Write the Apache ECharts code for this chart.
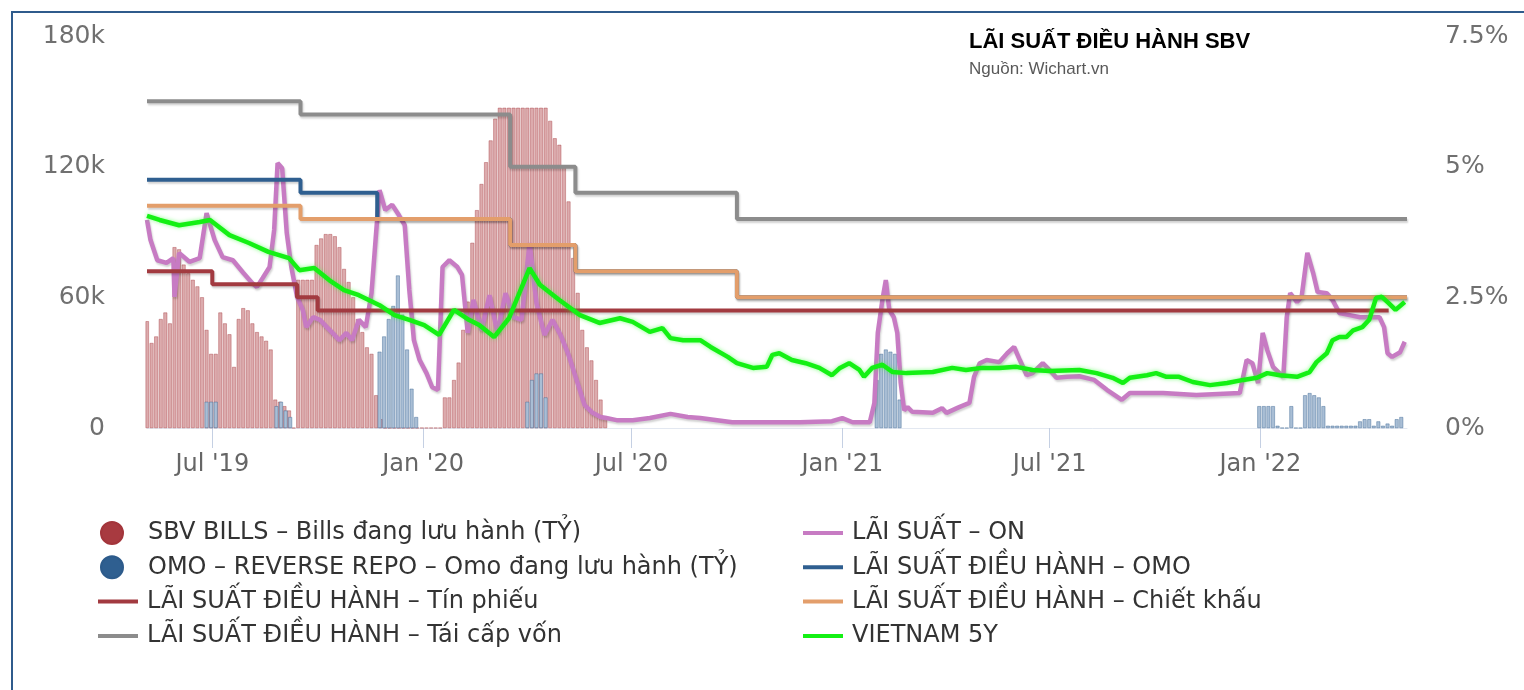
<!DOCTYPE html>
<html>
<head>
<meta charset="utf-8">
<title>LÃI SUẤT ĐIỀU HÀNH SBV</title>
<script src="https://cdn.jsdelivr.net/npm/echarts@6/dist/echarts.min.js"></script>
<style>
  html, body { margin: 0; padding: 0; background: #fff; overflow: hidden; }
  #wrap { position: relative; width: 1524px; height: 690px; overflow: hidden; }
  #chart { position: absolute; left: 0; top: 0; width: 1524px; height: 690px; }
  #frame {
    position: absolute; left: 11px; top: 11px; width: 1600px; height: 800px;
    border: 2px solid #2f5b8c; pointer-events: none;
  }
</style>
</head>
<body>
<div id="wrap">
  <div id="chart"></div>
  <div id="frame"></div>
</div>
<script>
// tên series (giữ nguyên như hình gốc)
const NAME_BILLS = 'SBV BILLS – Bills đang lưu hành (TỶ)';
const NAME_OMO = 'OMO – REVERSE REPO – Omo đang lưu hành (TỶ)';
const NAME_BILL_RATE = 'LÃI SUẤT ĐIỀU HÀNH – Tín phiếu';
const NAME_REFI = 'LÃI SUẤT ĐIỀU HÀNH – Tái cấp vốn';
const NAME_ON = 'LÃI SUẤT – ON';
const NAME_OMO_RATE = 'LÃI SUẤT ĐIỀU HÀNH – OMO';
const NAME_DISCOUNT = 'LÃI SUẤT ĐIỀU HÀNH – Chiết khấu';
const NAME_VN5Y = 'VIETNAM 5Y';

// trục thời gian
const xStart = '2019-05-05';
const xEnd = '2022-05-09';
const xTickDates = ['2019-07-01', '2020-01-01', '2020-07-01', '2021-01-01', '2021-07-01', '2022-01-01'];
const xTickLabels = ["Jul '19", "Jan '20", "Jul '20", "Jan '21", "Jul '21", "Jan '22"];

// tín phiếu đang lưu hành (nghìn tỷ), mỗi cột cách nhau 4 ngày từ billsStart
const billsStart = '2019-05-05';
const barStepDays = 4;
const billsValues = [
  49, 39, 42, 50, 53, 48, 83, 82, 75, 71, 68, 65, 60, 45, 34, 34, 53, 48, 43, 28,
  50, 55, 54, 48, 44, 42, 40, 36, 13, 12, 10, 8, 0, 68, 68, 68, 68, 84, 87, 89,
  89, 88, 83, 73, 67, 60, 50, 44, 37, 34, 15, 4, 0, 0, 0, 0, 0, 0, 0, 0,
  0, 0, 0, 0, 0, 14, 14, 22, 30, 45, 58, 85, 100, 112, 122, 132, 142, 147, 147, 147,
  147, 147, 147, 147, 147, 147, 147, 147, 141, 133, 130, 120, 104, 78, 62, 45, 37, 31, 22, 13,
  4
];

// OMO đang lưu hành (nghìn tỷ): ngày bắt đầu từng đợt + giá trị (cách 4 ngày)
const omoRunStarts = ['2019-06-26', '2019-08-26', '2019-11-24', '2020-04-01', '2021-01-31', '2021-12-31'];
const omoRunValues = [
  [12, 12, 12],
  [10, 12, 8, 5],
  [35, 42, 50, 56, 70, 52, 36, 18, 5],
  [12, 22, 25, 25, 14],
  [22, 34, 36, 35, 34, 13],
  [10, 10, 10, 10, 1, 0, 0, 10, 0, 0, 15, 16, 15, 14, 10, 1, 1, 1, 1, 1, 1, 1, 3, 4, 4, 1, 3, 1, 2, 1, 4, 5]
];

// lãi suất điều hành (%), bậc thang
const refiRate = [['2019-05-05', 6.25], ['2019-09-16', 6.0], ['2020-03-17', 5.0], ['2020-05-13', 4.5], ['2020-10-01', 4.0], ['2022-05-09', 4.0]];
const omoRate = [['2019-05-05', 4.75], ['2019-09-16', 4.5], ['2019-11-22', 4.0], ['2020-03-17', 3.5], ['2020-05-13', 3.0], ['2020-10-01', 2.5], ['2022-05-09', 2.5]];
const discountRate = [['2019-05-05', 4.25], ['2019-09-16', 4.0], ['2020-03-17', 3.5], ['2020-05-13', 3.0], ['2020-10-01', 2.5], ['2022-05-09', 2.5]];
const billRate = [['2019-05-05', 3.0], ['2019-07-01', 2.75], ['2019-09-13', 2.5], ['2019-10-01', 2.25], ['2022-04-23', 2.25]];

// lãi suất qua đêm liên ngân hàng (%)
const onRate = [
  ['2019-05-05', 3.98], ['2019-05-08', 3.60], ['2019-05-14', 3.21], ['2019-05-22', 3.16], ['2019-05-28', 3.25],
  ['2019-05-29', 2.51], ['2019-06-02', 3.35], ['2019-06-11', 3.18], ['2019-06-20', 3.25], ['2019-06-26', 4.11],
  ['2019-07-03', 3.60], ['2019-07-10', 3.27], ['2019-07-19', 3.21], ['2019-07-28', 2.97], ['2019-08-05', 2.77],
  ['2019-08-09', 2.70], ['2019-08-14', 2.87], ['2019-08-20', 3.08], ['2019-08-24', 3.79], ['2019-08-27', 5.07],
  ['2019-08-31', 4.97], ['2019-09-04', 3.73], ['2019-09-08', 3.08], ['2019-09-13', 2.51], ['2019-09-18', 2.26],
  ['2019-09-21', 1.93], ['2019-09-27', 2.12], ['2019-10-03', 2.07], ['2019-10-09', 1.93], ['2019-10-14', 1.82],
  ['2019-10-20', 1.68], ['2019-10-26', 1.82], ['2019-10-31', 1.68], ['2019-11-06', 2.07], ['2019-11-12', 1.93],
  ['2019-11-17', 2.58], ['2019-11-21', 3.73], ['2019-11-24', 4.55], ['2019-11-29', 4.17], ['2019-12-05', 4.27],
  ['2019-12-11', 4.07], ['2019-12-16', 3.88], ['2019-12-20', 2.64], ['2019-12-24', 1.68], ['2019-12-29', 1.30],
  ['2020-01-04', 1.05], ['2020-01-09', 0.78], ['2020-01-14', 0.73], ['2020-01-18', 3.08], ['2020-01-24', 3.21],
  ['2020-01-31', 3.08], ['2020-02-04', 2.93], ['2020-02-09', 1.82], ['2020-02-14', 2.45], ['2020-02-21', 1.87],
  ['2020-02-28', 2.54], ['2020-03-06', 1.82], ['2020-03-13', 2.58], ['2020-03-20', 2.12], ['2020-03-27', 2.07],
  ['2020-04-03', 3.54], ['2020-04-09', 2.39], ['2020-04-16', 1.78], ['2020-04-23', 2.07], ['2020-04-30', 1.78],
  ['2020-05-07', 1.40], ['2020-05-14', 0.92], ['2020-05-21', 0.44], ['2020-05-28', 0.29], ['2020-06-04', 0.21],
  ['2020-06-09', 0.19], ['2020-06-18', 0.15], ['2020-07-02', 0.15], ['2020-07-17', 0.19], ['2020-08-04', 0.27],
  ['2020-08-19', 0.21], ['2020-08-30', 0.19], ['2020-09-27', 0.11], ['2020-10-27', 0.11], ['2020-11-25', 0.11],
  ['2020-12-23', 0.13], ['2021-01-01', 0.19], ['2021-01-10', 0.11], ['2021-01-25', 0.11], ['2021-01-29', 0.48],
  ['2021-02-01', 1.82], ['2021-02-05', 2.45], ['2021-02-08', 2.83], ['2021-02-11', 2.26], ['2021-02-15', 2.12],
  ['2021-02-18', 1.82], ['2021-02-21', 0.86], ['2021-02-24', 0.34], ['2021-02-27', 0.40], ['2021-03-03', 0.31],
  ['2021-03-21', 0.29], ['2021-03-29', 0.38], ['2021-04-02', 0.29], ['2021-04-13', 0.40], ['2021-04-22', 0.48],
  ['2021-04-26', 0.98], ['2021-05-01', 1.24], ['2021-05-07', 1.30], ['2021-05-18', 1.26], ['2021-05-25', 1.43],
  ['2021-05-31', 1.55], ['2021-06-05', 1.30], ['2021-06-11', 1.01], ['2021-06-16', 1.05], ['2021-06-25', 1.24],
  ['2021-07-01', 1.11], ['2021-07-07', 0.96], ['2021-07-16', 0.98], ['2021-07-27', 0.99], ['2021-08-09', 0.92],
  ['2021-08-20', 0.73], ['2021-09-02', 0.54], ['2021-09-09', 0.67], ['2021-10-08', 0.67], ['2021-11-06', 0.63],
  ['2021-12-14', 0.67], ['2021-12-20', 1.30], ['2021-12-25', 1.24], ['2021-12-30', 0.86], ['2022-01-03', 1.82],
  ['2022-01-07', 1.49], ['2022-01-12', 1.17], ['2022-01-21', 0.98], ['2022-01-24', 2.12], ['2022-01-27', 2.58],
  ['2022-02-02', 2.41], ['2022-02-06', 2.51], ['2022-02-11', 3.35], ['2022-02-16', 2.97], ['2022-02-20', 2.60],
  ['2022-02-28', 2.58], ['2022-03-05', 2.45], ['2022-03-11', 2.20], ['2022-03-20', 2.16], ['2022-03-29', 2.12],
  ['2022-04-06', 2.12], ['2022-04-15', 2.12], ['2022-04-19', 1.93], ['2022-04-22', 1.43], ['2022-04-26', 1.36],
  ['2022-05-03', 1.45], ['2022-05-07', 1.65]
];

// lợi suất trái phiếu chính phủ 5 năm (%)
const vn5y = [
  ['2019-05-05', 4.06], ['2019-05-16', 3.98], ['2019-06-02', 3.88], ['2019-06-20', 3.94], ['2019-06-29', 3.98],
  ['2019-07-16', 3.69], ['2019-08-02', 3.54], ['2019-08-19', 3.37], ['2019-09-06', 3.25], ['2019-09-15', 3.02],
  ['2019-09-28', 3.06], ['2019-10-11', 2.83], ['2019-10-24', 2.64], ['2019-11-06', 2.54], ['2019-11-24', 2.35],
  ['2019-12-07', 2.16], ['2019-12-20', 2.07], ['2020-01-02', 1.97], ['2020-01-15', 1.78], ['2020-01-28', 2.26],
  ['2020-02-10', 2.07], ['2020-02-19', 1.97], ['2020-03-03', 1.74], ['2020-03-16', 2.10], ['2020-04-03', 3.06],
  ['2020-04-12', 2.74], ['2020-04-29', 2.45], ['2020-05-17', 2.16], ['2020-06-03', 2.01], ['2020-06-21', 2.10],
  ['2020-07-02', 2.03], ['2020-07-17', 1.84], ['2020-07-28', 1.91], ['2020-08-04', 1.72], ['2020-08-15', 1.68],
  ['2020-08-30', 1.68], ['2020-09-08', 1.55], ['2020-09-23', 1.36], ['2020-10-01', 1.24], ['2020-10-15', 1.15],
  ['2020-10-27', 1.17], ['2020-11-01', 1.40], ['2020-11-07', 1.43], ['2020-11-18', 1.30], ['2020-11-30', 1.24],
  ['2020-12-12', 1.15], ['2020-12-23', 1.01], ['2020-12-30', 1.15], ['2021-01-07', 1.24], ['2021-01-16', 1.11],
  ['2021-01-20', 0.98], ['2021-01-27', 1.15], ['2021-02-05', 1.21], ['2021-02-14', 1.07], ['2021-02-26', 1.05],
  ['2021-03-21', 1.07], ['2021-04-07', 1.15], ['2021-04-19', 1.11], ['2021-05-03', 1.15], ['2021-05-18', 1.15],
  ['2021-06-02', 1.17], ['2021-06-16', 1.11], ['2021-07-01', 1.09], ['2021-07-27', 1.11], ['2021-08-11', 1.05],
  ['2021-08-25', 0.96], ['2021-09-03', 0.86], ['2021-09-09', 0.96], ['2021-09-24', 1.01], ['2021-10-02', 1.05],
  ['2021-10-11', 0.98], ['2021-10-22', 0.98], ['2021-11-03', 0.88], ['2021-11-18', 0.82], ['2021-12-03', 0.86],
  ['2021-12-17', 0.92], ['2021-12-29', 0.96], ['2022-01-07', 1.05], ['2022-01-18', 1.01], ['2022-02-02', 0.98],
  ['2022-02-13', 1.07], ['2022-02-19', 1.26], ['2022-02-28', 1.43], ['2022-03-05', 1.68], ['2022-03-11', 1.74],
  ['2022-03-17', 1.74], ['2022-03-23', 1.87], ['2022-03-31', 1.93], ['2022-04-06', 2.07], ['2022-04-12', 2.49],
  ['2022-04-17', 2.51], ['2022-04-23', 2.39], ['2022-04-29', 2.26], ['2022-05-07', 2.41]
];

const DAY = 86400000;
function ts(s) {
  const p = s.split('-');
  return Date.UTC(+p[0], +p[1] - 1, +p[2]);
}
// chuyển [ngày, giá trị] sang timestamp
function toSeries(rows) {
  return rows.map(r => [ts(r[0]), r[1]]);
}
// cột cách đều barStepDays ngày bắt đầu từ start
function runToData(start, values) {
  const t0 = ts(start);
  return values.map((v, i) => [t0 + i * barStepDays * DAY, v]);
}

const billsData = runToData(billsStart, billsValues);
let omoData = [];
omoRunStarts.forEach((s, k) => { omoData = omoData.concat(runToData(s, omoRunValues[k])); });

const tickValues = xTickDates.map(ts);
const FONT = 'DejaVu Sans';
const shadow = { shadowColor: 'rgba(0,0,0,0.18)', shadowBlur: 2, shadowOffsetX: 1, shadowOffsetY: 2 };

function rateLine(name, rows, color, stepped, width) {
  return {
    name: name,
    type: 'line',
    yAxisIndex: 1,
    step: stepped ? 'end' : false,
    symbol: 'none',
    showSymbol: false,
    data: toSeries(rows),
    lineStyle: Object.assign({ width: width || 4, color: color }, shadow),
    itemStyle: { color: color },
    emphasis: { disabled: true }
  };
}

// chú thích: 2 cột, hàng cách nhau ~34px
function legendBlock(left, top, items, icon, h, padLeft) {
  return {
    orient: 'vertical',
    left: left,
    top: top,
    itemWidth: 40,
    itemHeight: h,
    itemGap: 10.3,
    selectedMode: false,
    icon: icon,
    textStyle: { fontFamily: FONT, fontSize: 24, color: '#333', padding: [0, 0, 0, padLeft] },
    data: items
  };
}

const chart = echarts.init(document.getElementById('chart'));
const option = {
  animation: false,
  backgroundColor: '#fff',
  title: {
    text: 'LÃI SUẤT ĐIỀU HÀNH SBV',
    subtext: 'Nguồn: Wichart.vn',
    left: 964,
    top: 26,
    itemGap: 8,
    textStyle: { fontFamily: 'Liberation Sans', fontWeight: 'bold', fontSize: 22, color: '#000' },
    subtextStyle: { fontFamily: 'Liberation Sans', fontSize: 17, color: '#595959' }
  },
  legend: [
    legendBlock(95, 516, [
      { name: NAME_BILLS, itemStyle: { color: '#a83a40' } },
      { name: NAME_OMO, itemStyle: { color: '#2f5f90' } }
    ], 'circle', 22, 11),
    legendBlock(93, 584.6, [NAME_BILL_RATE, NAME_REFI], 'rect', 4, 4),
    legendBlock(798, 516, [NAME_ON, NAME_OMO_RATE, NAME_DISCOUNT, NAME_VN5Y], 'rect', 4, 4)
  ],
  grid: { left: 147, right: 117, top: 36, bottom: 262 },
  xAxis: {
    type: 'value',
    min: ts(xStart),
    max: ts(xEnd),
    axisLine: { show: true, lineStyle: { color: '#e3e8f1', width: 1 } },
    axisTick: { show: true, customValues: tickValues, length: 20, lineStyle: { color: '#c5d0e3', width: 1 } },
    axisLabel: {
      customValues: tickValues,
      margin: 25,
      fontFamily: FONT,
      fontSize: 24,
      color: '#666',
      formatter: function (v) {
        const i = tickValues.indexOf(v);
        return i >= 0 ? xTickLabels[i] : '';
      }
    },
    splitLine: { show: false }
  },
  yAxis: [{
    type: 'value',
    min: 0,
    max: 180,
    interval: 60,
    axisLine: { show: false },
    axisTick: { show: false },
    splitLine: { show: false },
    axisLabel: {
      margin: 42,
      fontFamily: FONT,
      fontSize: 25,
      color: '#707070',
      formatter: v => (v === 0 ? '0' : v + 'k')
    }
  }, {
    type: 'value',
    min: 0,
    max: 7.5,
    interval: 2.5,
    axisLine: { show: false },
    axisTick: { show: false },
    splitLine: { show: false },
    axisLabel: {
      margin: 38,
      fontFamily: FONT,
      fontSize: 25,
      color: '#707070',
      formatter: v => v + '%'
    }
  }],
  series: [
    {
      name: NAME_BILLS,
      type: 'bar',
      yAxisIndex: 0,
      barWidth: 3.7,
      barGap: '-100%',
      data: billsData,
      itemStyle: { color: '#dcabad', borderColor: '#a3353b', borderWidth: 0.4 },
      emphasis: { disabled: true }
    },
    rateLine(NAME_ON, onRate, '#c77bc3', false, 4.5),
    {
      name: NAME_OMO,
      type: 'bar',
      yAxisIndex: 0,
      barWidth: 3.7,
      barGap: '-100%',
      data: omoData,
      itemStyle: { color: '#a9bed5', borderColor: '#2d5b8b', borderWidth: 0.4 },
      emphasis: { disabled: true }
    },
    rateLine(NAME_OMO_RATE, omoRate, '#2f5f90', true),
    rateLine(NAME_BILL_RATE, billRate, '#a23a40', true),
    rateLine(NAME_DISCOUNT, discountRate, '#e39e6b', true),
    rateLine(NAME_REFI, refiRate, '#8c8c8c', true),
    {
      name: NAME_VN5Y,
      type: 'line',
      yAxisIndex: 1,
      symbol: 'none',
      showSymbol: false,
      data: toSeries(vn5y),
      lineStyle: { width: 4.5, color: '#14f014', shadowColor: 'rgba(40,255,40,0.55)', shadowBlur: 4 },
      itemStyle: { color: '#14f014' },
      emphasis: { disabled: true }
    }
  ]
};
chart.setOption(option);
</script>
</body>
</html>
